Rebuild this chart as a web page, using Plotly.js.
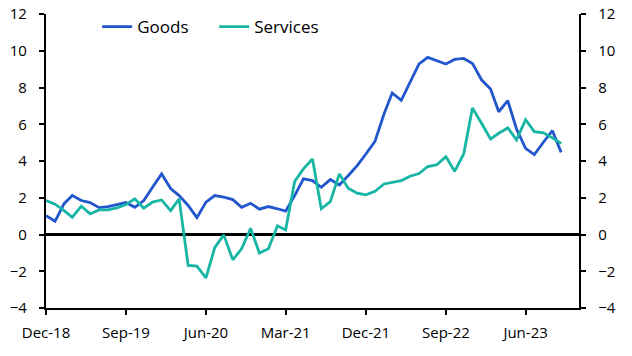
<!DOCTYPE html>
<html>
<head>
<meta charset="utf-8">
<script src="https://cdn.plot.ly/plotly-3.0.1.min.js"></script>
<style>html,body{margin:0;padding:0;background:#fff;}#chart{width:632px;height:356px;}</style>
</head>
<body>
<div id="chart"></div>
<script>
// Monthly data, Dec-18 to Oct-23 (% y/y)
const startMonth = "2018-12";
const goods = [1.03,
  0.72, 1.68, 2.12, 1.85, 1.74, 1.46, 1.52, 1.63, 1.74, 1.48, 1.85, 2.57,
  3.30, 2.50, 2.12, 1.58, 0.92, 1.76, 2.12, 2.03, 1.90, 1.48, 1.70, 1.38,
  1.52, 1.40, 1.27, 2.12, 3.03, 2.93, 2.57, 2.99, 2.70, 3.20, 3.75, 4.38,
  5.07, 6.56, 7.70, 7.30, 8.28, 9.28, 9.64, 9.46, 9.28, 9.53, 9.58, 9.31,
  8.42, 7.92, 6.68, 7.28, 5.74, 4.69, 4.35, 5.02, 5.65, 4.47];
const services = [1.85,
  1.65, 1.30, 0.94, 1.54, 1.12, 1.34, 1.34, 1.45, 1.63, 1.94, 1.43, 1.76,
  1.88, 1.30, 1.94, -1.68, -1.72, -2.36, -0.72, -0.02, -1.38, -0.78, 0.34, -1.01,
  -0.78, 0.47, 0.25, 2.90, 3.57, 4.11, 1.40, 1.79, 3.30, 2.52, 2.25, 2.16,
  2.35, 2.75, 2.85, 2.93, 3.17, 3.32, 3.70, 3.80, 4.24, 3.44, 4.38, 6.88,
  6.05, 5.20, 5.51, 5.80, 5.15, 6.25, 5.60, 5.53, 5.26, 4.96];
const tickVals = ["2018-12-01","2019-09-01","2020-06-01","2021-03-01","2021-12-01","2022-09-01","2023-06-01"];
const tickText = ["Dec-18","Sep-19","Jun-20","Mar-21","Dec-21","Sep-22","Jun-23"];
const xRange = ["2018-12-01","2023-12-01"];
const yRange = [-4, 12];

function monthDates(start, n) {
  let [y, m] = start.split("-").map(Number);
  const out = [];
  for (let i = 0; i < n; i++) {
    out.push(y + "-" + String(m).padStart(2, "0") + "-01");
    m++; if (m > 12) { m = 1; y++; }
  }
  return out;
}
const dates = monthDates(startMonth, goods.length);

const font = {family: "Open Sans, sans-serif", size: 15, color: "#000"};
const traces = [
  {x: dates, y: goods, name: "Goods", type: "scatter", mode: "lines",
   line: {color: "#2256CC", width: 2.8}},
  {x: dates, y: services, name: "Services", type: "scatter", mode: "lines",
   line: {color: "#17B5A3", width: 2.8}},
  {x: dates, y: goods, yaxis: "y2", type: "scatter", mode: "lines", showlegend: false,
   hoverinfo: "skip", line: {width: 0}, opacity: 0}
];
const yax = {
  range: yRange, dtick: 2, tick0: 0, showgrid: false, zeroline: true,
  zerolinecolor: "#000", zerolinewidth: 2.2, showline: true, linecolor: "#000",
  linewidth: 2.2, ticks: "outside", ticklen: 5, tickwidth: 2, tickcolor: "#000",
  tickfont: font, ticklabelstandoff: 9, fixedrange: true, automargin: false
};
const layout = {
  width: 632, height: 356,
  margin: {l: 46, r: 53, t: 14, b: 48, autoexpand: false},
  paper_bgcolor: "#fff", plot_bgcolor: "#fff",
  font: font,
  showlegend: true,
  legend: {orientation: "h", x: 0.096, y: 1.017, yanchor: "top", xanchor: "left",
           font: {family: "Open Sans, sans-serif", size: 17, color: "#000"},
           bgcolor: "rgba(0,0,0,0)", entrywidth: 72, entrywidthmode: "pixels",
           tracegroupgap: 0},
  xaxis: {type: "date", range: xRange, tickvals: tickVals, ticktext: tickText,
          showgrid: false, zeroline: false, showline: true, linecolor: "#000", linewidth: 2.2,
          ticks: "outside", ticklen: 5, tickwidth: 2, tickcolor: "#000", tickfont: font,
          ticklabelstandoff: 5, fixedrange: true, automargin: false},
  yaxis: Object.assign({}, yax, {side: "left"}),
  yaxis2: Object.assign({}, yax, {side: "right", overlaying: "y", zeroline: false})
};
Plotly.newPlot("chart", traces, layout, {displayModeBar: false, staticPlot: true});
</script>
</body>
</html>
